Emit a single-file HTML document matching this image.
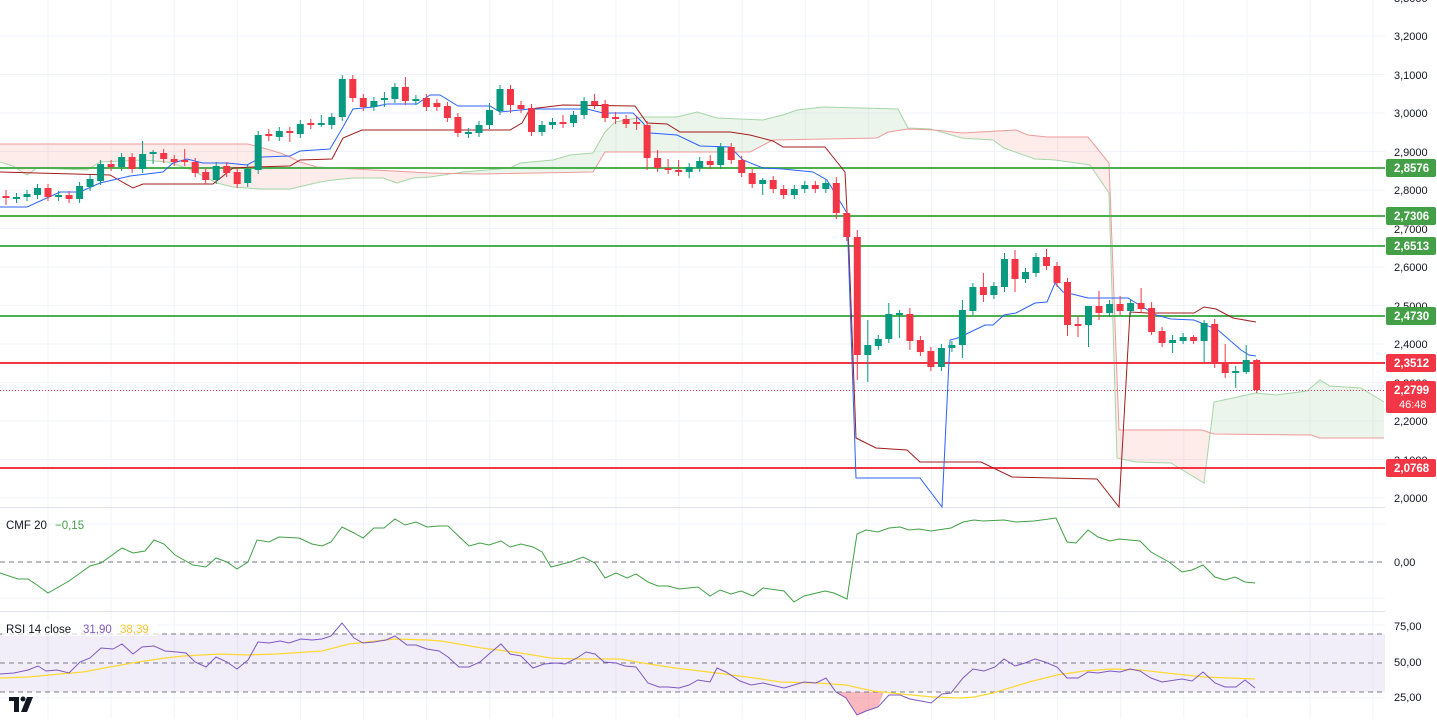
<!DOCTYPE html>
<html><head><meta charset="utf-8">
<style>
html,body{margin:0;padding:0;background:#fff;}
body{width:1437px;height:719px;overflow:hidden;}
svg text{font-family:"Liberation Sans",sans-serif;}
</style></head>
<body>
<svg width="1437" height="719" xmlns="http://www.w3.org/2000/svg">
<defs>
<clipPath id="aboveB"><polygon points="0,144 248,144 263,148 280,153 290,157 300,162 317,167 430,173 480,174 593,172 605,152 750,152 773,140 877,138 888,132 908,129 935,130 962,133 1016,130 1028,135 1047,137 1088,137 1109,163 1119,430 1202,430 1214,434 1311,435 1320,438 1384,438 1384,0 0,0"/></clipPath>
<clipPath id="belowB"><polygon points="0,144 248,144 263,148 280,153 290,157 300,162 317,167 430,173 480,174 593,172 605,152 750,152 773,140 877,138 888,132 908,129 935,130 962,133 1016,130 1028,135 1047,137 1088,137 1109,163 1119,430 1202,430 1214,434 1311,435 1320,438 1384,438 1384,719 0,719"/></clipPath>
</defs>
<!-- grid -->
<path stroke="#f0f3fa" stroke-width="1" fill="none" d="M48,0V719M111.1,0V719M174.2,0V719M237.3,0V719M300.4,0V719M363.5,0V719M426.6,0V719M489.7,0V719M552.8,0V719M615.9,0V719M679,0V719M742.1,0V719M805.2,0V719M868.3,0V719M931.4,0V719M994.5,0V719M1057.6,0V719M1120.7,0V719M1183.8,0V719M1246.9,0V719M1310,0V719M1373.1,0V719
M0,498H1385M0,459.5H1385M0,421H1385M0,382.5H1385M0,344H1385M0,305.5H1385M0,267H1385M0,228.5H1385M0,190H1385M0,151.5H1385M0,113H1385M0,74.5H1385M0,36H1385
M0,524H1385M0,598H1385M0,625H1385M0,698H1385"/>
<line x1="0" y1="507.5" x2="1437" y2="507.5" stroke="#e0e3eb"/>
<line x1="0" y1="611.5" x2="1437" y2="611.5" stroke="#e0e3eb"/>
<!-- cloud -->
<g id="band">
<polygon id="bandpoly" fill="rgba(67,160,71,0.1)" clip-path="url(#aboveB)" points="0,162 13,166 27,175 37,168 87,170 100,162 143,160 167,162 187,168 217,183 233,187 260,189 290,189 320,182 333,180 353,178 383,178 397,183 413,178 430,177 463,172 510,168 520,163 553,160 570,155 593,153 605,132 615,122 643,117 677,117 697,112 717,118 763,120 783,115 797,110 823,107 898,109 908,128 931,129 962,138 993,140 1004,148 1035,159 1055,160 1090,165 1109,193 1117,458 1136,462 1171,463 1204,483 1214,402 1256,393 1276,395 1307,391 1320,380 1330,386 1361,388 1384,402 1384,438 1320,438 1311,435 1214,434 1202,430 1119,430 1109,163 1088,137 1047,137 1028,135 1016,130 962,133 935,130 908,129 888,132 877,138 773,140 750,152 605,152 593,172 480,174 430,173 317,167 300,162 290,157 280,153 263,148 248,144 0,144"/>
<polygon fill="rgba(244,67,54,0.1)" clip-path="url(#belowB)" points="0,162 13,166 27,175 37,168 87,170 100,162 143,160 167,162 187,168 217,183 233,187 260,189 290,189 320,182 333,180 353,178 383,178 397,183 413,178 430,177 463,172 510,168 520,163 553,160 570,155 593,153 605,132 615,122 643,117 677,117 697,112 717,118 763,120 783,115 797,110 823,107 898,109 908,128 931,129 962,138 993,140 1004,148 1035,159 1055,160 1090,165 1109,193 1117,458 1136,462 1171,463 1204,483 1214,402 1256,393 1276,395 1307,391 1320,380 1330,386 1361,388 1384,402 1384,438 1320,438 1311,435 1214,434 1202,430 1119,430 1109,163 1088,137 1047,137 1028,135 1016,130 962,133 935,130 908,129 888,132 877,138 773,140 750,152 605,152 593,172 480,174 430,173 317,167 300,162 290,157 280,153 263,148 248,144 0,144"/>
</g>
<polyline fill="none" stroke="#a5d6a7" stroke-width="1" points="0,162 13,166 27,175 37,168 87,170 100,162 143,160 167,162 187,168 217,183 233,187 260,189 290,189 320,182 333,180 353,178 383,178 397,183 413,178 430,177 463,172 510,168 520,163 553,160 570,155 593,153 605,132 615,122 643,117 677,117 697,112 717,118 763,120 783,115 797,110 823,107 898,109 908,128 931,129 962,138 993,140 1004,148 1035,159 1055,160 1090,165 1109,193 1117,458 1136,462 1171,463 1204,483 1214,402 1256,393 1276,395 1307,391 1320,380 1330,386 1361,388 1384,402"/>
<polyline fill="none" stroke="#ef9a9a" stroke-width="1" points="0,144 248,144 263,148 280,153 290,157 300,162 317,167 430,173 480,174 593,172 605,152 750,152 773,140 877,138 888,132 908,129 935,130 962,133 1016,130 1028,135 1047,137 1088,137 1109,163 1119,430 1202,430 1214,434 1311,435 1320,438 1384,438"/>
<!-- levels -->
<path stroke="#4caf50" stroke-width="2" d="M0,168H1385M0,216H1385M0,246H1385M0,316H1385"/>
<path stroke="#f23645" stroke-width="2" d="M0,363H1385M0,468H1385"/>
<line x1="0" y1="390.5" x2="1385" y2="390.5" stroke="#f23645" stroke-width="1" stroke-dasharray="1,2"/>
<!-- kijun -->
<polyline fill="none" stroke="#a31c1c" stroke-width="1" points="0,172 110,175 133,188 143,184 213,184 233,168 253,167 290,166 300,160 332,159 343,138 362,130 510,130 522,123 530,109 563,105 635,106 647,123 667,124 680,132 730,132 750,135 773,141 783,147 825,147 845,172 849,250 856,438 876,448 907,450 920,462 981,462 1012,477 1097,479 1119,507 1130,312 1148,313 1194,313 1204,307 1216,309 1233,318 1256,322"/>
<!-- tenkan -->
<polyline fill="none" stroke="#2962ff" stroke-width="1" points="0,207 27,207 60,192 80,192 100,183 130,176 163,172 173,163 187,159 203,163 227,163 247,165 262,157 290,156 300,151 330,149 343,127 353,109 373,107 387,104 417,104 430,95 440,95 458,106 490,106 500,112 530,109 587,109 603,113 633,113 643,123 650,133 677,135 700,146 730,147 743,160 763,168 783,169 813,172 827,180 847,213 856,478 920,478 942,507 950,340 958,338 985,325 993,325 1004,315 1016,313 1035,303 1047,302 1055,283 1063,292 1072,294 1088,298 1128,298 1136,303 1156,315 1171,319 1194,320 1218,330 1241,350 1249,355 1256,356"/>
<!-- candles green -->
<path stroke="#089981" stroke-width="1" fill="none" d="M16.5,193V203M27,190V201M37.5,184V199M58.6,191V201M79.6,182V203M90.1,175V191M100.6,160V185M121.6,153V171M142.6,141V173M153.1,150V164M216.2,162V184M247.7,165V187M258.2,131V174M279.3,127V141M300.3,120V138M321.3,115V127M331.8,113V129M342.3,75V121M373.9,97V111M384.4,92V107M394.9,83V103M415.9,95V105M468.4,128V138M479,121V137M489.5,103V129M500,85V115M542,121V136M552.5,118V129M573.5,111V127M584.1,97V119M689.2,163V178M699.7,157V172M720.7,143V169M762.7,178V195M794.3,185V199M804.8,181V193M825.8,179V193M867.8,320V382M878.3,335V350M888.8,303V343M899.4,310V338M941.4,344V371M951.9,341V352M962.4,300V358M972.9,283V315M993.9,282V299M1004.5,253V292M1025.5,268V283M1036,253V277M1088.5,306V347M1109.6,300V317M1130.6,299V315M1172.6,335V353M1183.1,333V344M1204.1,320V362M1235.7,366V388M1246.2,345V374"/>
<path stroke="#089981" stroke-width="7" fill="none" d="M16.5,197V199M27,194V197M37.5,188V195M58.6,195V197M79.6,186V199M90.1,179V187M100.6,164V181M121.6,157V167M142.6,154V169M153.1,152V154M216.2,166V180M247.7,169V183M258.2,135V170M279.3,131V137M300.3,124V134M321.3,123V125M331.8,117V125M342.3,79V117M373.9,101V107M384.4,98V100M394.9,87V99M415.9,99V101M468.4,132V134M479,125V133M489.5,110V125M500,89V111M542,125V132M552.5,122V125M573.5,115V123M584.1,101V115M689.2,167V172M699.7,161V168M720.7,147V165M762.7,180V184M794.3,189V195M804.8,185V189M825.8,183V189M867.8,345V355M878.3,339V346M888.8,314V339M899.4,313V315M941.4,348V367M951.9,345V348M962.4,310V345M972.9,287V311M993.9,286V295M1004.5,259V287M1025.5,272V279M1036,257V273M1088.5,306V325M1109.6,304V313M1130.6,303V311M1172.6,340V343M1183.1,337V341M1204.1,323V341M1235.7,371V373M1246.2,360V372"/>
<!-- candles red -->
<path stroke="#f23645" stroke-width="1" fill="none" d="M6,190V205M48,184V201M69.1,191V203M111.1,160V171M132.1,153V173M163.7,149V163M174.2,155V166M184.7,149V166M195.2,158V177M205.7,168V184M226.7,162V177M237.2,168V188M268.8,129V141M289.8,127V142M310.8,119V129M352.8,75V102M363.3,94V111M405.4,77V105M426.4,94V111M436.9,99V111M447.4,102V122M457.9,113V137M510.5,85V113M521,101V113M531.5,104V136M563,115V128M594.6,94V109M605.1,100V122M615.6,112V124M626.1,115V128M636.6,116V130M647.1,121V170M657.6,150V172M668.1,159V174M678.6,160V176M710.2,155V169M731.2,143V164M741.7,156V177M752.2,169V188M773.2,176V193M783.7,185V199M815.3,181V193M836.3,177V219M846.8,209V241M857.3,230V380M909.9,308V350M920.4,336V356M930.9,347V371M983.4,273V302M1015,250V292M1046.5,249V270M1057,262V287M1067.5,278V336M1078,316V337M1099,291V320M1120.1,296V315M1141.1,288V313M1151.6,302V335M1162.1,327V347M1193.6,335V344M1214.7,319V368M1225.2,344V378M1256.7,359V393"/>
<path stroke="#f23645" stroke-width="7" fill="none" d="M6,196V198M48,188V197M69.1,195V199M111.1,164V167M132.1,157V169M163.7,153V159M174.2,159V162M184.7,160V162M195.2,162V173M205.7,172V180M226.7,166V173M237.2,172V184M268.8,134V136M289.8,131V133M310.8,123V125M352.8,79V98M363.3,98V107M405.4,87V101M426.4,98V107M436.9,103V107M447.4,106V118M457.9,117V133M510.5,89V105M521,105V109M531.5,108V132M563,122V124M594.6,101V105M605.1,104V118M615.6,117V119M626.1,119V124M636.6,122V124M647.1,125V158M657.6,158V168M668.1,168V170M678.6,170V172M710.2,161V165M731.2,147V160M741.7,160V173M752.2,173V184M773.2,180V189M783.7,189V195M815.3,185V189M836.3,183V213M846.8,213V237M857.3,237V355M909.9,314V341M920.4,340V352M930.9,351V367M983.4,287V295M1015,259V279M1046.5,257V266M1057,266V283M1067.5,282V325M1078,324V326M1099,306V313M1120.1,304V311M1141.1,303V309M1151.6,308V332M1162.1,331V343M1193.6,337V341M1214.7,324V363M1225.2,362V373M1256.7,360V390"/>
<!-- CMF -->
<line x1="0" y1="562" x2="1385" y2="562" stroke="#787b86" stroke-dasharray="5,4"/>
<polyline fill="none" stroke="#43a047" stroke-width="1" points="0,573 18,579 28,579 37,585 48,593 69,581 90,566 101,563 122,548 133,553 145,551 154,540 164,544 175,555 193,565 206,567 216,558 227,562 237,569 248,562 257,540 269,542 279,537 299,538 312,544 322,546 331,542 342,527 354,533 363,538 374,528 384,528 395,519 405,525 416,522 427,527 439,526 448,526 469,546 480,543 489,545 501,541 510,547 521,544 533,547 542,552 551,567 570,562 583,557 595,563 605,578 616,573 627,578 636,574 648,582 658,586 668,586 679,589 698,587 710,596 720,590 731,594 741,591 753,596 763,588 784,591 794,602 804,596 825,591 834,593 847,599 857,534 866,530 878,532 889,528 900,527 909,530 919,529 931,531 951,528 963,522 974,520 983,521 1004,520 1016,522 1034,521 1056,518 1067,542 1076,543 1088,530 1098,537 1110,541 1119,539 1140,541 1151,552 1169,562 1182,572 1192,570 1203,565 1215,577 1225,580 1235,577 1245,582 1255,583"/>
<!-- RSI -->
<rect x="0" y="634" width="1385" height="58" fill="rgba(126,87,194,0.1)"/>
<polygon points="836,692 846,698 857,715 866,711 878,707 884,692" fill="rgba(242,54,69,0.35)"/>
<path stroke="#787b86" stroke-dasharray="5,4" d="M0,634H1385M0,663H1385M0,692H1385"/>
<polyline fill="none" stroke="#fdd835" stroke-width="1.2" points="0,678 28,677 60,674 83,672 110,667 138,662 165,658 184,656 220,654 248,655 276,654 322,651 349,644 395,639 427,640 441,641 482,648 514,652 551,658 574,659 620,659 643,663 675,668 717,673 754,678 781,682 818,683 846,685 873,691 901,694 933,697 960,698 974,697 993,693 1029,682 1057,675 1084,671 1112,669 1140,670 1176,674 1204,677 1255,679"/>
<polyline fill="none" stroke="#7e57c2" stroke-width="1" points="0,674 14,673 28,670 38,666 46,671 57,670 69,673 80,662 90,658 101,648 113,649 122,644 133,654 142,647 154,646 165,651 177,652 186,653 195,662 206,667 216,657 227,662 237,669 248,660 258,642 269,643 280,641 289,643 301,639 312,640 322,639 331,636 342,623 354,638 363,643 374,642 386,640 395,636 407,645 416,645 427,649 439,651 448,657 459,667 469,667 480,662 489,654 501,644 510,654 521,656 533,668 544,664 556,663 565,664 577,658 586,652 595,654 604,662 616,663 625,666 636,667 648,683 659,687 668,687 679,688 689,685 698,680 710,682 717,668 726,672 740,681 751,685 763,683 784,688 804,682 816,683 826,678 836,692 846,698 857,715 866,711 878,707 889,695 900,695 910,699 921,701 931,703 942,694 951,693 963,678 973,669 984,671 995,667 1004,659 1015,666 1025,663 1035,659 1045,662 1057,667 1067,678 1078,678 1088,672 1098,673 1110,671 1120,672 1130,669 1140,671 1151,678 1162,682 1182,679 1192,681 1203,672 1215,683 1225,687 1236,687 1245,680 1255,688"/>
<!-- right axis -->
<rect x="1385" y="0" width="52" height="719" fill="#fff"/>
<g font-size="11" fill="#131722">
<text x="1394" y="2">3,3000</text><text x="1394" y="40">3,2000</text><text x="1394" y="79">3,1000</text><text x="1394" y="117">3,0000</text><text x="1394" y="156">2,9000</text><text x="1394" y="194">2,8000</text><text x="1394" y="233">2,7000</text><text x="1394" y="271">2,6000</text><text x="1394" y="310">2,5000</text><text x="1394" y="348">2,4000</text><text x="1394" y="387">2,3000</text><text x="1394" y="425">2,2000</text><text x="1394" y="464">2,1000</text><text x="1394" y="502">2,0000</text>
<text x="1394" y="566">0,00</text><text x="1394" y="630">75,00</text><text x="1394" y="666">50,00</text><text x="1394" y="701">25,00</text>
</g>
<g font-size="11.5" font-weight="bold" fill="#fff">
<rect x="1386" y="159" width="50" height="18" rx="2" fill="#43a047"/><text x="1394" y="172">2,8576</text>
<rect x="1386" y="207" width="50" height="18" rx="2" fill="#43a047"/><text x="1394" y="220">2,7306</text>
<rect x="1386" y="237" width="50" height="18" rx="2" fill="#43a047"/><text x="1394" y="250">2,6513</text>
<rect x="1386" y="307" width="50" height="18" rx="2" fill="#43a047"/><text x="1394" y="320">2,4730</text>
<rect x="1386" y="354" width="50" height="18" rx="2" fill="#f23645"/><text x="1394" y="367">2,3512</text>
<rect x="1386" y="459" width="50" height="18" rx="2" fill="#f23645"/><text x="1394" y="472">2,0768</text>
<rect x="1386" y="381" width="50" height="32" rx="2" fill="#f23645"/><text x="1394" y="394">2,2799</text>
<text x="1399" y="408" font-weight="normal" font-size="11">46:48</text>
</g>
<!-- legends -->
<text x="6" y="529" font-size="11.5" fill="#131722">CMF 20</text><text x="55" y="529" font-size="11.5" fill="#43a047">−0,15</text>
<rect x="2" y="620" width="156" height="16" fill="rgba(255,255,255,0.7)"/>
<text x="6" y="633" font-size="11.5" fill="#131722">RSI 14 close</text><text x="83" y="633" font-size="11.5" fill="#7e57c2">31,90</text><text x="120" y="633" font-size="11.5" fill="#f9c631">38,39</text>
<g fill="#131722"><rect x="9" y="697" width="10" height="4"/><rect x="14" y="697" width="5" height="15"/><circle cx="23" cy="699" r="2.5"/><polygon points="27,697 33,697 27,712 21,712"/></g>
</svg>
</body></html>
